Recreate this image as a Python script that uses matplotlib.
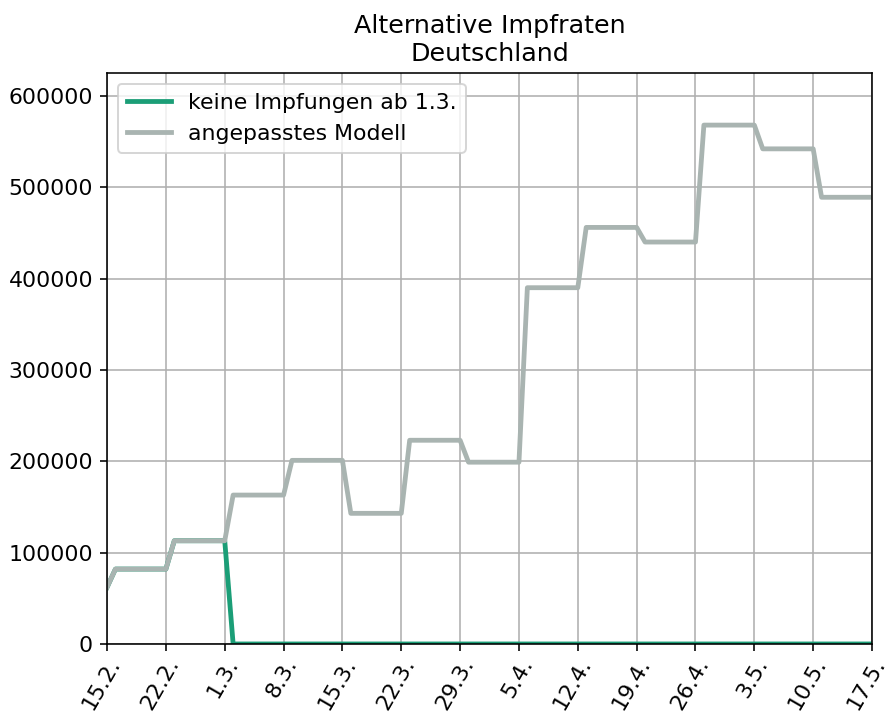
import matplotlib
matplotlib.use("Agg")
import matplotlib.pyplot as plt
import pandas as pd
import numpy as np

# weekly levels of the fitted model (value on 15.2., then each Tue–Mon week)
start_value = 62000
week_values = [82000, 113000, 163000, 201000, 143000, 223000, 199000,
               390000, 456000, 440000, 568000, 542000, 489000]
stop_date = "2021-03-01"

dates = pd.date_range("2021-02-15", "2021-05-17", freq="D")
model = np.array([start_value] + [v for v in week_values for _ in range(7)], dtype=float)
no_vacc = np.where(dates <= pd.Timestamp(stop_date), model, 0.0)

tick_dates = pd.date_range("2021-02-15", "2021-05-17", freq="7D")

plt.rcParams["font.size"] = 11

fig = plt.figure(figsize=(892/144, 716/144), dpi=144)
ax = fig.add_axes([0.12, 0.1006, 0.8576, 0.7974])

ax.plot(dates, no_vacc, color="#1b9e77", lw=2.4, label="keine Impfungen ab 1.3.")
ax.plot(dates, model, color="#a9b4b1", lw=2.4, label="angepasstes Modell")

ax.set_xlim(dates[0], dates[-1])
ax.set_ylim(0, 625000)
ax.set_yticks(np.arange(0, 600001, 100000))
ax.set_xticks(tick_dates)
ax.set_xticklabels([f"{d.day}.{d.month}." for d in tick_dates], rotation=60, ha="right",
                   rotation_mode="anchor")
ax.tick_params(axis="x", pad=2)
ax.grid(True, color="#b0b0b0", lw=0.8)
ax.set_axisbelow(True)
ax.set_title("Alternative Impfraten\nDeutschland", fontsize=12.7)
ax.legend(loc="upper left")

fig.savefig("out.png", dpi=144)
